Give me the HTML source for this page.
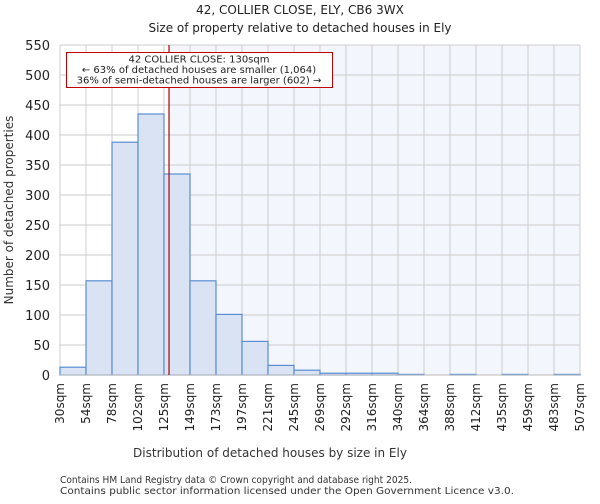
<!DOCTYPE html>
<html><head><meta charset="utf-8"><style>
body{margin:0;background:#fff;font-family:"DejaVu Sans","Liberation Sans",sans-serif;}
</style></head><body>
<svg width="600" height="500" xmlns="http://www.w3.org/2000/svg">
<text x="300" y="14" text-anchor="middle" font-size="12" fill="#222">42, COLLIER CLOSE, ELY, CB6 3WX</text>
<text x="300" y="32" text-anchor="middle" font-size="12" fill="#222">Size of property relative to detached houses in Ely</text>
<g id="plot"></g>
<text x="270" y="457" text-anchor="middle" font-size="12" fill="#333">Distribution of detached houses by size in Ely</text>
<text transform="translate(13,210) rotate(-90)" text-anchor="middle" font-size="12" fill="#333">Number of detached properties</text>
<text x="60" y="483" font-size="10" fill="#333" textLength="352" lengthAdjust="spacingAndGlyphs">Contains HM Land Registry data © Crown copyright and database right 2025.</text>
<text x="60" y="494" font-size="10" fill="#333" textLength="454" lengthAdjust="spacingAndGlyphs">Contains public sector information licensed under the Open Government Licence v3.0.</text>
</svg>
<script>
const categories=["30sqm","54sqm","78sqm","102sqm","125sqm","149sqm","173sqm","197sqm","221sqm","245sqm","269sqm","292sqm","316sqm","340sqm","364sqm","388sqm","412sqm","435sqm","459sqm","483sqm","507sqm"];
const counts=[13,157,388,435,335,157,101,56,16,8,3,3,3,1,0,1,0,1,0,1];
const yTicks=[0,50,100,150,200,250,300,350,400,450,500,550];
const propertySize=130;
const binStart=30, binWidth=23.85;
const L=60,R=580,T=45,B=375,yMax=550;
const n=counts.length;
const bw=(R-L)/n;
const x=i=>L+i*bw;
const y=v=>B-(v/yMax)*(B-T);
const xv=s=>L+((s-binStart)/binWidth)*bw;
const NS="http://www.w3.org/2000/svg";
const g=document.getElementById('plot');
function mk(t,a){const e=document.createElementNS(NS,t);for(const k in a)e.setAttribute(k,a[k]);g.appendChild(e);return e;}
const px=xv(propertySize);
const bgL=mk('rect',{x:L,y:T,width:px-L,height:B-T,fill:'#ffffff'});


const bgR=mk('rect',{x:px,y:T,width:R-px,height:B-T,fill:'#f4f6fd'});


for(let i=0;i<=n;i++){const l=mk('line',{x1:x(i),x2:x(i),y1:T,y2:B,stroke:'#cccccc'});

}
yTicks.forEach(v=>{const l=mk('line',{x1:L,x2:R,y1:y(v),y2:y(v),stroke:'#cccccc'});


const t=mk('text',{x:L-10,y:y(v)+5,'text-anchor':'end','font-size':13,fill:'#222'});t.textContent=v;

});
counts.forEach((c,i)=>{const r=mk('rect',{x:x(i),y:y(c),width:bw,height:B-y(c),fill:'#dae3f3',stroke:'#5a8dd4','stroke-width':1.2});

});
mk('line',{x1:L,x2:R,y1:B,y2:B,stroke:'#bbb'});
categories.forEach((c,i)=>{const t=mk('text',{transform:`translate(${x(i)+4},${B+8}) rotate(-90)`,'text-anchor':'end','font-size':12,fill:'#222'});t.textContent=c;

});
const ml=mk('line',{x1:px,x2:px,y1:T,y2:B,stroke:'#b00000','stroke-width':1.2});


const box=mk('rect',{x:66.5,y:52.5,width:266,height:35,fill:'#fff',stroke:'#c00000','stroke-width':1});


["42 COLLIER CLOSE: 130sqm","← 63% of detached houses are smaller (1,064)","36% of semi-detached houses are larger (602) →"].forEach((s,i)=>{
const t=mk('text',{x:199,y:62.5+i*10.5,'text-anchor':'middle','font-size':10,fill:'#222'});t.textContent=s;

});
</script>
</body></html>
